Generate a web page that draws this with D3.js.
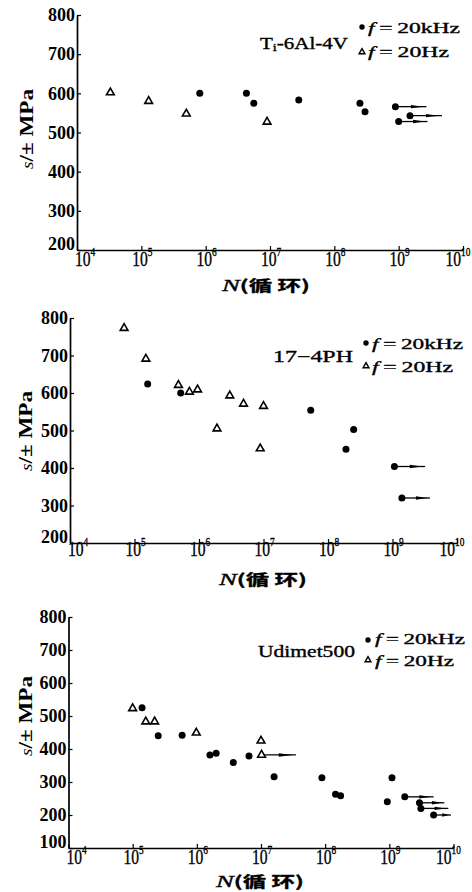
<!DOCTYPE html>
<html>
<head>
<meta charset="utf-8">
<script src="https://cdn.jsdelivr.net/npm/d3@7"></script>
<style>
  body { margin: 0; background: #fff; }
  svg { display: block; }
  text { font-family: "Liberation Serif", "DejaVu Serif", serif; fill: #000; }
  .heavy { stroke: #000; stroke-width: 0.35; }
  .axis path, .axis line { stroke: #000; }
</style>
</head>
<body>
<svg id="chart" width="472" height="892"></svg>
<script>
// tick values
var nTicks = [1e4, 1e5, 1e6, 1e7, 1e8, 1e9, 1e10];
var sTicks200 = [200, 300, 400, 500, 600, 700, 800];
var sTicks100 = [100, 200, 300, 400, 500, 600, 700, 800];

var legendLabels = ["20kHz", "20Hz"];
var materials = ["Ti-6Al-4V", "17\u22124PH", "Udimet500"];

// [N, stress]  Ti-6Al-4V
var tiKhz = [[8.1e5, 600], [4.3e6, 600], [5.6e6, 575], [2.8e7, 583], [2.5e8, 575], [3.0e8, 553]];
var tiHz = [[3.3e4, 602], [1.3e5, 580], [5.0e5, 548], [9.0e6, 527]];
// runouts [N start, N end, stress]
var tiKhzRun = [[8.9e8, 2.7e9, 566], [1.5e9, 4.7e9, 543], [1.0e9, 2.8e9, 528]];
var tiHzRun = [];

// 17-4PH
var phKhz = [[1.6e5, 624], [5.2e5, 600], [5.4e7, 554], [1.9e8, 450], [2.5e8, 503]];
var phHz = [[6.9e4, 773], [1.5e5, 691], [4.8e5, 621], [7.1e5, 603], [9.5e5, 609], [1.9e6, 505],
            [3.0e6, 593], [4.9e6, 571], [1.0e7, 565], [8.9e6, 452]];
var phKhzRun = [[1.07e9, 3.2e9, 404], [1.4e9, 3.8e9, 320]];
var phHzRun = [];

// Udimet500
var udKhz = [[1.4e5, 525], [2.5e5, 440], [5.9e5, 442], [1.6e6, 382], [2.0e6, 387], [3.7e6, 359],
             [6.5e6, 379], [1.6e7, 316], [8.9e7, 313], [1.45e8, 263], [1.74e8, 258], [9.3e8, 240],
             [1.1e9, 313]];
var udHz = [[1.0e5, 523], [1.6e5, 483], [2.2e5, 483], [9.8e5, 449], [1.0e7, 425]];
var udKhzRun = [[1.74e9, 4.9e9, 255], [2.95e9, 7.2e9, 237], [3.1e9, 8.3e9, 220], [4.9e9, 9.1e9, 200]];
var udHzRun = [[1.02e7, 3.5e7, 382]];

var panels = [
  { left: 77, right: 463, top: 15, bottom: 250, yMin: 200, yTicks: sTicks200,
    khz: tiKhz, hz: tiHz, khzRun: tiKhzRun, hzRun: tiHzRun, name: materials[0],
    tickY: 266, yTitle: [27, 129], xTitle: [266, 291],
    nameBox: [260, 49, 88], leg: { x: 362, y1: 27, y2: 52, tx: 368, b1: 33, b2: 57, w1: 92, w2: 81 } },
  { left: 70, right: 457, top: 318, bottom: 543, yMin: 200, yTicks: sTicks200,
    khz: phKhz, hz: phHz, khzRun: phKhzRun, hzRun: phHzRun, name: materials[1],
    tickY: 556, yTitle: [26, 431], xTitle: [263, 585],
    nameBox: [273, 362, 80], leg: { x: 366, y1: 343, y2: 366, tx: 372, b1: 349, b2: 372, w1: 91, w2: 81 } },
  { left: 68.5, right: 453.5, top: 617, bottom: 848, yMin: 100, yTicks: sTicks100,
    khz: udKhz, hz: udHz, khzRun: udKhzRun, hzRun: udHzRun, name: materials[2],
    tickY: 864, yTitle: [26, 716], xTitle: [260, 886.5],
    nameBox: [258, 657, 97], leg: { x: 368, y1: 640, y2: 660, tx: 375, b1: 644, b2: 666, w1: 90, w2: 79 } }
];

var svg = d3.select("#chart");
svg.append("rect").attr("width", 472).attr("height", 892).attr("fill", "#fff");

var tri = d3.symbol().type(d3.symbolTriangle);

// stretch a text horizontally to a given width
function fitText(sel, x, y, width) {
  var w = sel.node().getComputedTextLength();
  sel.attr("transform", "translate(" + x + "," + y + ") scale(" + (width / w) + ",1)");
}

function drawPanel(p) {
  var x = d3.scaleLog().domain([1e4, 1e10]).range([p.left, p.right]);
  var y = d3.scaleLinear().domain([p.yMin, 800]).range([p.bottom, p.top]);
  var g = svg.append("g");

  // y axis
  var ya = g.append("g")
      .attr("class", "axis")
      .attr("transform", "translate(" + p.left + ",0)")
      .call(d3.axisLeft(y).tickValues(p.yTicks).tickSizeInner(-4).tickSizeOuter(0).tickPadding(2));
  ya.select(".domain").attr("stroke-width", 1.7);
  ya.selectAll(".tick line").attr("stroke-width", 1.2);
  ya.selectAll(".tick text")
      .attr("font-size", 18)
      .attr("font-weight", "bold")
      .attr("font-family", "Liberation Serif")
      .attr("dy", function (d) { return d === p.yMin ? "-0.05em" : "0.32em"; });

  // x axis
  var xa = g.append("g")
      .attr("class", "axis")
      .attr("transform", "translate(0," + p.bottom + ")")
      .call(d3.axisBottom(x).tickValues(nTicks).tickSizeInner(-4).tickSizeOuter(0).tickFormat(""));
  xa.select(".domain").attr("stroke-width", 1.7);
  xa.selectAll(".tick line").attr("stroke-width", 1.2);
  xa.selectAll(".tick text").remove();

  nTicks.forEach(function (d, i) {
    var dx = i === 0 ? 8 : (i === nTicks.length - 1 ? -5 : 1);
    var t = g.append("text")
        .attr("class", "heavy")
        .attr("text-anchor", "middle")
        .attr("font-size", 20)
        .attr("transform", "translate(" + (x(d) + dx) + "," + p.tickY + ") scale(0.78,1)");
    t.append("tspan").text("10");
    t.append("tspan").attr("font-size", 12).attr("dy", "-0.8em").text(Math.round(Math.log10(d)));
  });

  // y title
  var yt = g.append("text").attr("text-anchor", "middle").attr("font-size", 17).attr("font-weight", "bold");
  yt.append("tspan").attr("font-style", "italic").attr("font-weight", "normal").attr("font-size", 14).text("s");
  yt.append("tspan").text("/\u00b1 MPa");
  var ytw = yt.node().getComputedTextLength();
  yt.attr("transform", "translate(" + (p.yTitle[0] + 6) + "," + p.yTitle[1] + ") rotate(-90) scale(" + (80 / ytw) + ",1.15)");

  // x title
  var xt = g.append("text").attr("class", "heavy").attr("font-size", 15);
  xt.append("tspan").attr("font-style", "italic").attr("font-size", 17).text("N");
  xt.append("tspan").attr("font-family", "Noto Sans CJK SC").attr("font-weight", "bold").text("(循 环)");
  var xtw = xt.node().getComputedTextLength();
  xt.attr("transform", "translate(" + (p.xTitle[0] - 44) + "," + p.xTitle[1] + ") scale(" + (88 / xtw) + ",1)");

  // runout lines with arrowheads
  function runouts(data) {
    data.forEach(function (r) {
      var x0 = x(r[0]), x1 = x(r[1]), yy = y(r[2]);
      g.append("line")
          .attr("x1", x0).attr("x2", x1).attr("y1", yy).attr("y2", yy)
          .attr("stroke", "#000").attr("stroke-width", 1.3);
      var a = x0 + (x1 - x0) * 0.5, b = x0 + (x1 - x0) * 0.9;
      g.append("path")
          .attr("d", "M" + a + "," + (yy - 1.7) + "L" + b + "," + yy + "L" + a + "," + (yy + 1.7) + "Z")
          .attr("fill", "#000");
    });
  }
  runouts(p.khzRun);
  runouts(p.hzRun);

  // 20 kHz points
  g.selectAll(".khz").data(p.khz.concat(p.khzRun.map(function (r) { return [r[0], r[2]]; })))
    .enter().append("circle")
      .attr("cx", function (d) { return x(d[0]); })
      .attr("cy", function (d) { return y(d[1]); })
      .attr("r", 3.5)
      .attr("fill", "#000");

  // 20 Hz points
  g.selectAll(".hz").data(p.hz.concat(p.hzRun.map(function (r) { return [r[0], r[2]]; })))
    .enter().append("path")
      .attr("d", tri.size(26))
      .attr("transform", function (d) { return "translate(" + x(d[0]) + "," + y(d[1]) + ")"; })
      .attr("fill", "#fff")
      .attr("stroke", "#000")
      .attr("stroke-width", 1.6);

  // material name
  var nm = g.append("text").attr("class", "heavy").attr("font-size", 16);
  if (p.name === materials[0]) {
    nm.append("tspan").text("T");
    nm.append("tspan").attr("font-size", 11).attr("dy", 2).text("i");
    nm.append("tspan").attr("dy", -2).text("-6Al-4V");
  } else {
    nm.text(p.name);
  }
  fitText(nm, p.nameBox[0], p.nameBox[1], p.nameBox[2]);

  // legend
  var L = p.leg;
  g.append("circle").attr("cx", L.x).attr("cy", L.y1).attr("r", 2.7).attr("fill", "#000");
  g.append("path").attr("d", tri.size(14))
      .attr("transform", "translate(" + L.x + "," + L.y2 + ")")
      .attr("fill", "#fff").attr("stroke", "#000").attr("stroke-width", 1.5);
  [[L.b1, L.w1, legendLabels[0]], [L.b2, L.w2, legendLabels[1]]].forEach(function (l) {
    var t = g.append("text").attr("class", "heavy").attr("font-size", 15);
    t.append("tspan").attr("font-style", "italic").text("f");
    t.append("tspan").text("\u2009=\u2009" + l[2]);
    fitText(t, L.tx, l[0], l[1]);
  });
}

panels.forEach(drawPanel);
</script>
</body>
</html>
